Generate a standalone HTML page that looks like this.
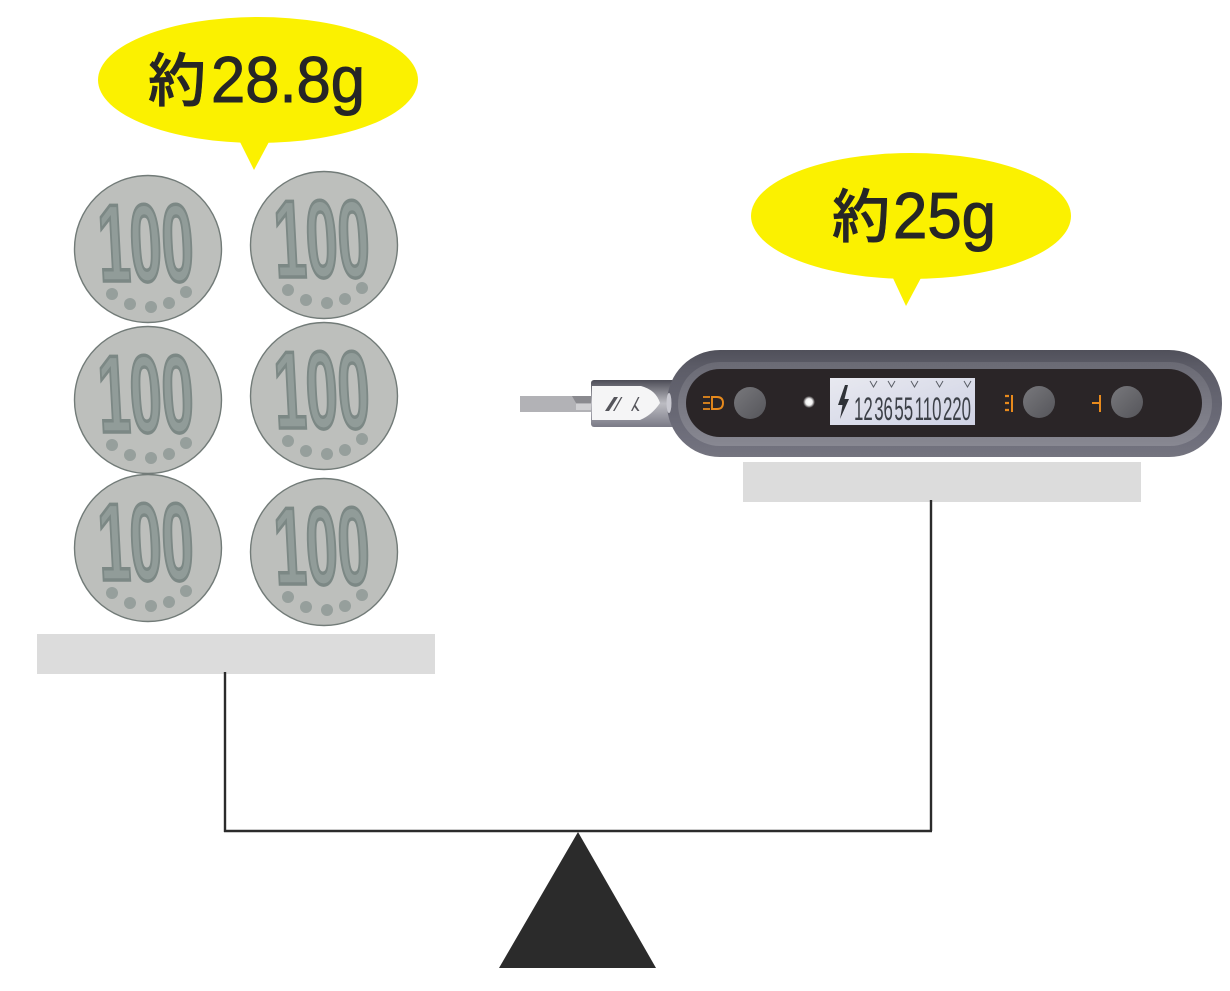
<!DOCTYPE html>
<html lang="ja"><head><meta charset="utf-8"><title>Diagram</title>
<style>html,body{margin:0;padding:0;background:#fff}svg{display:block}
.big{font-family:"Liberation Sans","Noto Sans CJK JP",sans-serif;font-size:65px;fill:#262626;stroke:#262626;stroke-width:1px}
.kanji{font-family:"Liberation Sans","Noto Sans CJK JP",sans-serif;font-size:58px;fill:#262626;font-weight:500;stroke:#262626;stroke-width:.6px}
.lcd{font-family:"Liberation Sans",sans-serif;font-size:32px;fill:#3c4047;word-spacing:-6px}
.num{font-family:"Liberation Sans",sans-serif;font-weight:bold;font-size:110px;fill:#919c99;stroke:#7c8885;stroke-width:3.500px;stroke-linejoin:miter}
</style></head><body>
<svg width="1230" height="991" viewBox="0 0 1230 991" xmlns="http://www.w3.org/2000/svg">
<defs>
<linearGradient id="body" x1="0" y1="0" x2="0" y2="1"><stop offset="0" stop-color="#50505a"/><stop offset=".16" stop-color="#5c5c67"/><stop offset=".84" stop-color="#6f6f7c"/><stop offset="1" stop-color="#74747f"/></linearGradient>
<linearGradient id="ring" x1="0" y1="0" x2="0" y2="1"><stop offset="0" stop-color="#6a6a74"/><stop offset="1" stop-color="#888892"/></linearGradient>
<linearGradient id="btn" x1="0" y1="0" x2="1" y2="1"><stop offset="0" stop-color="#78787c"/><stop offset="1" stop-color="#55555a"/></linearGradient>
<linearGradient id="neck" x1="0" y1="0" x2="0" y2="1"><stop offset="0" stop-color="#4c4c56"/><stop offset=".5" stop-color="#bcbcc2"/><stop offset="1" stop-color="#7a7a86"/></linearGradient>
<linearGradient id="lcdbg" x1="0" y1="0" x2="1" y2="1"><stop offset="0" stop-color="#e8e9f0"/><stop offset="1" stop-color="#cfd2e4"/></linearGradient>
<radialGradient id="glow"><stop offset="0" stop-color="#fff"/><stop offset=".55" stop-color="#f0f0f0"/><stop offset="1" stop-color="#f0f0f0" stop-opacity="0"/></radialGradient>
<g id="coin">
<circle cx="0" cy="0" r="73.5" fill="#bdbfbc" stroke="#727b78" stroke-width="1.4"/>
<text class="num" transform="translate(-48,32) skewX(3) scale(.52,1)" x="0" y="0">100</text>
<circle cx="-36" cy="45" r="6" fill="#969f9c"/><circle cx="-18" cy="55" r="6" fill="#969f9c"/><circle cx="3" cy="58" r="6" fill="#969f9c"/><circle cx="21" cy="54" r="6" fill="#969f9c"/><circle cx="38" cy="43" r="6" fill="#969f9c"/>
</g>
</defs>
<rect width="1230" height="991" fill="#fff"/>

<ellipse cx="258" cy="80" rx="160" ry="63" fill="#fbf100"/>
<polygon points="239,140 270,140 254,170" fill="#fbf100"/>
<text class="kanji" x="148" y="101">約</text>
<text class="big" x="211" y="102" textLength="154" lengthAdjust="spacingAndGlyphs">28.8g</text>

<ellipse cx="911" cy="216" rx="160" ry="63" fill="#fbf100"/>
<polygon points="892,276 922,276 906,306" fill="#fbf100"/>
<text class="kanji" x="832" y="237">約</text>
<text class="big" x="893" y="238" textLength="103" lengthAdjust="spacingAndGlyphs">25g</text>

<use href="#coin" x="148" y="249"/><use href="#coin" x="324" y="245"/>
<use href="#coin" x="148" y="400"/><use href="#coin" x="324" y="396"/>
<use href="#coin" x="148" y="548"/><use href="#coin" x="324" y="552"/>

<rect x="37" y="634" width="398" height="40" fill="#dcdcdc"/>
<rect x="743" y="462" width="398" height="40" fill="#dcdcdc"/>

<path d="M225 672V832M224 831H932M931 500V831" fill="none" stroke="#2b2b2b" stroke-width="2.4"/>
<polygon points="578,832 499,968 656,968" fill="#2b2b2b"/>

<!-- tip -->
<rect x="520" y="396" width="72" height="16" fill="#b2b2b6"/>
<polygon points="572,396 592,396 592,403 576,403" fill="#8a8a8f"/>
<rect x="576" y="404" width="16" height="6" fill="#cfcfd2"/>
<rect x="591" y="380" width="84" height="47" rx="3" fill="url(#neck)"/>
<path d="M592 386H641Q656 390 660 403Q652 415 640 420H592Z" fill="#f5f5f6"/>
<path d="M605 411l9-14h4l-9 14zM613 411l8-14h1.500l-8 14zM631 411l7-14h1.500l-4 8 4 6h-2l-3-4-2 4z" fill="#55555b"/>

<!-- body -->
<rect x="667" y="350" width="555" height="107" rx="53" fill="url(#body)"/>
<rect x="678" y="362" width="534" height="84" rx="42" fill="url(#ring)"/>
<rect x="686" y="369" width="516" height="68" rx="34" fill="#2a2527"/>
<ellipse cx="669" cy="403" rx="2.500" ry="10" fill="#c8c8d0"/>

<path d="M703 397h7M703 403h7M703 409h7" stroke="#e88a1c" stroke-width="1.700"/>
<path d="M712 397h5q6 0 6 6t-6 6h-5z" fill="none" stroke="#e88a1c" stroke-width="1.900"/>
<circle cx="750" cy="403" r="16" fill="url(#btn)"/>
<circle cx="809" cy="402" r="6" fill="url(#glow)"/>

<rect x="830" y="378" width="145" height="47" fill="url(#lcdbg)"/>
<polygon points="845,385 838,405 842.500,405 840,419 849,399 844.500,399 848,385" fill="#2f3238"/>
<text class="lcd" x="854" y="420" textLength="117" lengthAdjust="spacingAndGlyphs">12 36 55 110 220</text>
<path d="M870 381l3.500 6 3.500-6M888 381l3.500 6 3.500-6M911 381l3.500 6 3.500-6M936 381l3.500 6 3.500-6M964 381l3.500 6 3.500-6" fill="none" stroke="#5a5e66" stroke-width="1"/>

<path d="M1005 396h4M1005 403h4M1005 410h4" stroke="#e88a1c" stroke-width="2.200"/>
<path d="M1012 395v17" stroke="#e88a1c" stroke-width="2"/>
<circle cx="1039" cy="402" r="16" fill="url(#btn)"/>

<path d="M1092 403h8M1100 395v17" stroke="#e88a1c" stroke-width="2" fill="none"/>
<circle cx="1127" cy="402" r="16" fill="url(#btn)"/>
</svg>
</body></html>
